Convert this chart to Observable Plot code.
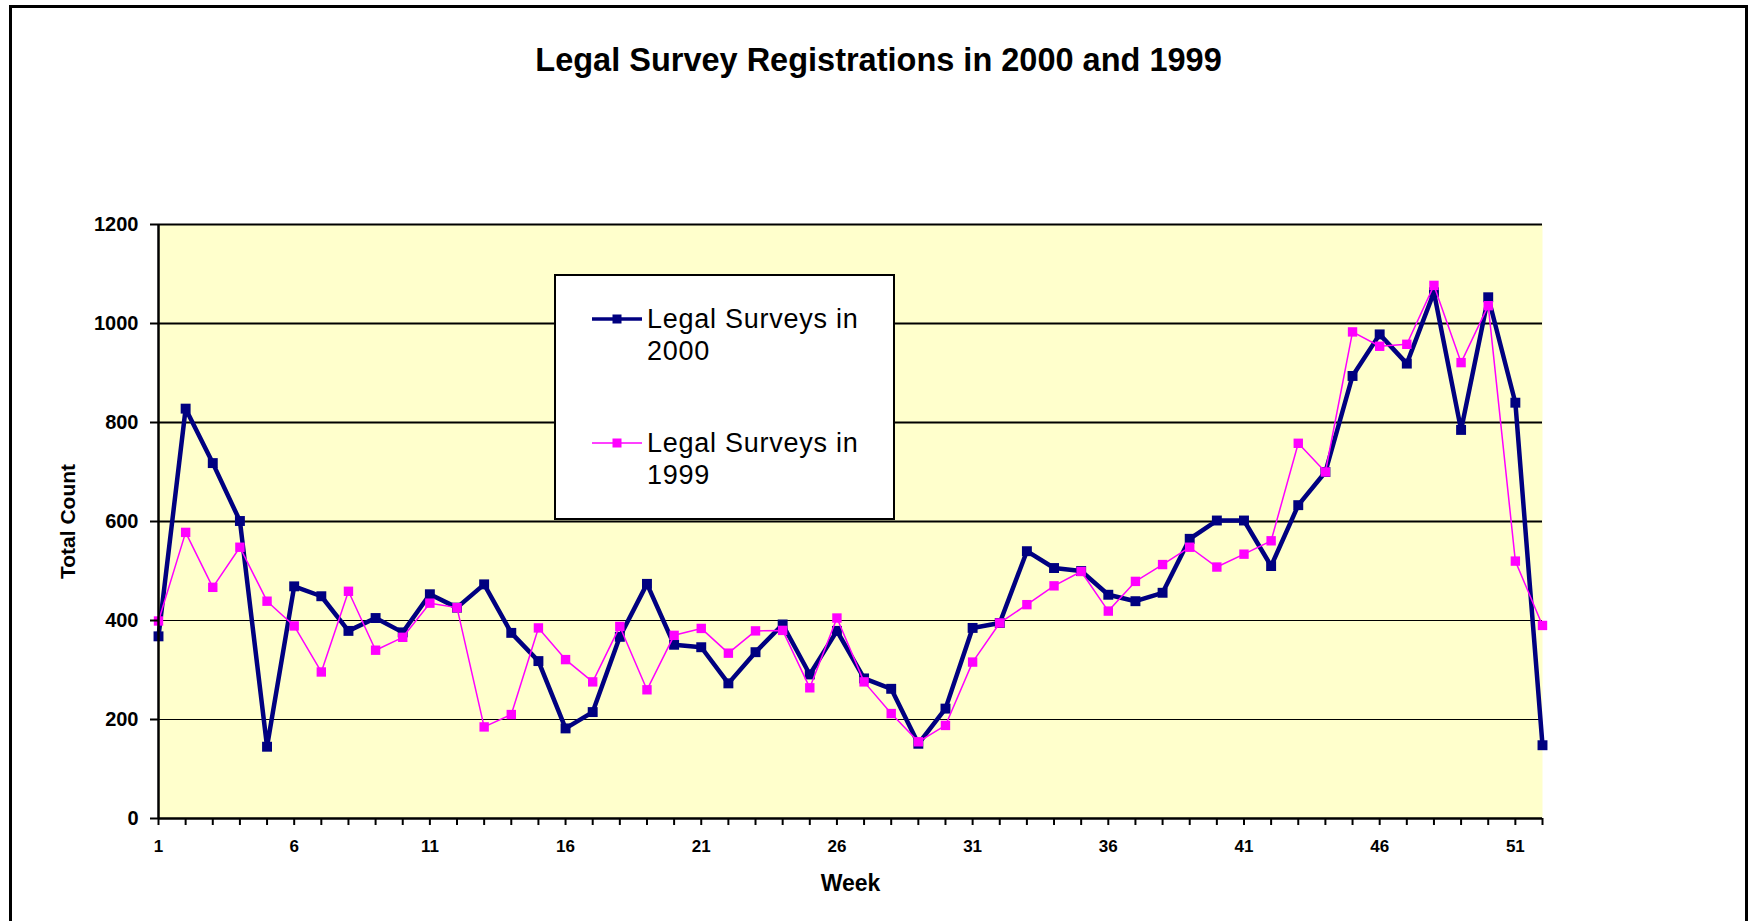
<!DOCTYPE html>
<html>
<head>
<meta charset="utf-8">
<script src="https://cdn.jsdelivr.net/npm/d3@7"></script>
<script src="https://cdn.jsdelivr.net/npm/@observablehq/plot@0.6"></script>
<style>
  html, body { margin: 0; padding: 0; background: #fff; }
  #chart { position: relative; width: 1748px; height: 921px; overflow: hidden; background: #fff;
           font-family: "Liberation Sans", Arial, sans-serif; color: #000; }
  #frame { position: absolute; left: 9px; top: 5px; width: 1739px; height: 1000px;
           box-sizing: border-box; border: 3px solid #000; }
  #plot { position: absolute; left: 0; top: 0; }
  #title { position: absolute; left: 9px; width: 1739px; top: 44px; text-align: center;
           font-size: 32.5px; line-height: 32px; font-weight: bold; white-space: nowrap; }
  #legend { position: absolute; left: 554px; top: 274px; width: 341px; height: 246px;
            box-sizing: border-box; border: 2px solid #000; background: #fff; }
  .lg-text { position: absolute; left: 647px; font-size: 27px; line-height: 32px;
             letter-spacing: 0.75px; white-space: nowrap; }
  .lg-swatch { position: absolute; left: 588px; width: 58px; height: 20px; }
</style>
</head>
<body>
<div id="chart">
  <div id="frame"></div>
  <div id="plot"></div>
  <div id="title"></div>
  <div id="legend"></div>
  <svg class="lg-swatch" id="sw2000" style="top:309px"></svg>
  <div class="lg-text" id="lt2000" style="top:303px"></div>
  <svg class="lg-swatch" id="sw1999" style="top:433px"></svg>
  <div class="lg-text" id="lt1999" style="top:427px"></div>
</div>
<script>
const titleText = "Legal Survey Registrations in 2000 and 1999";
const yLabel = "Total Count";
const xLabel = "Week";
const seriesNames = ["Legal Surveys in 2000", "Legal Surveys in 1999"];
const seriesColors = ["#000080", "#FF00FF"];

const weeks = [1,2,3,4,5,6,7,8,9,10,11,12,13,14,15,16,17,18,19,20,21,22,23,24,25,26,
               27,28,29,30,31,32,33,34,35,36,37,38,39,40,41,42,43,44,45,46,47,48,49,50,51,52];
const surveys2000 = [368,828,718,601,145,469,449,379,405,376,
                     453,426,473,375,318,182,215,367,474,351,
                     346,273,336,392,291,379,283,262,151,222,
                     385,395,540,506,500,452,439,456,565,602,
                     602,510,633,700,894,978,919,1063,785,1053,
                     840,148];
const surveys1999 = [399,578,467,548,439,389,296,459,340,366,
                     435,426,185,210,385,321,276,388,260,370,
                     384,334,379,380,264,405,276,212,155,188,
                     316,395,432,470,499,419,479,513,548,508,
                     534,561,758,700,983,954,958,1077,921,1036,
                     520,390];
const xTickLabels = [1,6,11,16,21,26,31,36,41,46,51];
const yTicks = [0,200,400,600,800,1000,1200];

const rows = weeks.map((w, i) => ({week: w, v2000: surveys2000[i], v1999: surveys1999[i]}));

const chart = Plot.plot({
  width: 1748,
  height: 921,
  marginTop: 224,
  marginBottom: 103,
  marginLeft: 158,
  marginRight: 206,
  style: {background: "transparent", fontFamily: "'Liberation Sans', Arial, sans-serif", color: "#000", overflow: "visible"},
  x: {type: "linear", domain: [1, 52]},
  y: {domain: [0, 1200]},
  marks: [
    Plot.frame({fill: "#FFFFCC", stroke: "none"}),
    Plot.ruleY(yTicks.filter(v => v > 0), {stroke: "#000", strokeWidth: d => d >= 600 ? 2 : 1}),
    Plot.line(rows, {x: "week", y: "v2000", stroke: seriesColors[0], strokeWidth: 4.5}),
    Plot.dot(rows, {x: "week", y: "v2000", symbol: "square", r: 5.6, fill: seriesColors[0], stroke: "none"}),
    Plot.line(rows, {x: "week", y: "v1999", stroke: seriesColors[1], strokeWidth: 1.5}),
    Plot.dot(rows, {x: "week", y: "v1999", symbol: "square", r: 5.3, fill: seriesColors[1], stroke: "none"}),
    Plot.ruleX([1], {stroke: "#000", strokeWidth: 2.5}),
    Plot.ruleY([0], {stroke: "#000", strokeWidth: 2.5}),
    Plot.axisY({ticks: yTicks, tickSize: 8, tickPadding: 12, fontSize: 20, fontWeight: "bold", strokeWidth: 2, label: null, tickFormat: d => String(d)}),
    Plot.axisX({ticks: weeks, tickSize: 7, tickFormat: () => "", strokeWidth: 2, label: null}),
    Plot.axisX({ticks: xTickLabels, tickSize: 0, tickPadding: 21, fontSize: 17, fontWeight: "bold", label: null, tickFormat: d => String(d)}),
    Plot.text([yLabel], {frameAnchor: "left", dx: -90, rotate: -90, textAnchor: "middle", fontSize: 21, fontWeight: "bold"}),
    Plot.text([xLabel], {frameAnchor: "bottom", dy: 56, lineAnchor: "top", textAnchor: "middle", fontSize: 23, fontWeight: "bold"})
  ]
});
document.getElementById("plot").appendChild(chart);

document.getElementById("title").textContent = titleText;

function splitName(name) {
  const i = name.lastIndexOf(" ");
  return [name.slice(0, i), name.slice(i + 1)];
}
const [a1, b1] = splitName(seriesNames[0]);
const [a2, b2] = splitName(seriesNames[1]);
document.getElementById("lt2000").innerHTML = a1 + "<br>" + b1;
document.getElementById("lt1999").innerHTML = a2 + "<br>" + b2;

const ns = "http://www.w3.org/2000/svg";
function swatch(id, color, lw, size) {
  const s = document.getElementById(id);
  const l = document.createElementNS(ns, "line");
  l.setAttribute("x1", 4); l.setAttribute("x2", 54);
  l.setAttribute("y1", 10); l.setAttribute("y2", 10);
  l.setAttribute("stroke", color); l.setAttribute("stroke-width", lw);
  s.appendChild(l);
  const r = document.createElementNS(ns, "rect");
  r.setAttribute("x", 29 - size / 2); r.setAttribute("y", 10 - size / 2);
  r.setAttribute("width", size); r.setAttribute("height", size);
  r.setAttribute("fill", color);
  s.appendChild(r);
}
swatch("sw2000", seriesColors[0], 3.5, 9);
swatch("sw1999", seriesColors[1], 1.5, 9);
</script>
</body>
</html>
